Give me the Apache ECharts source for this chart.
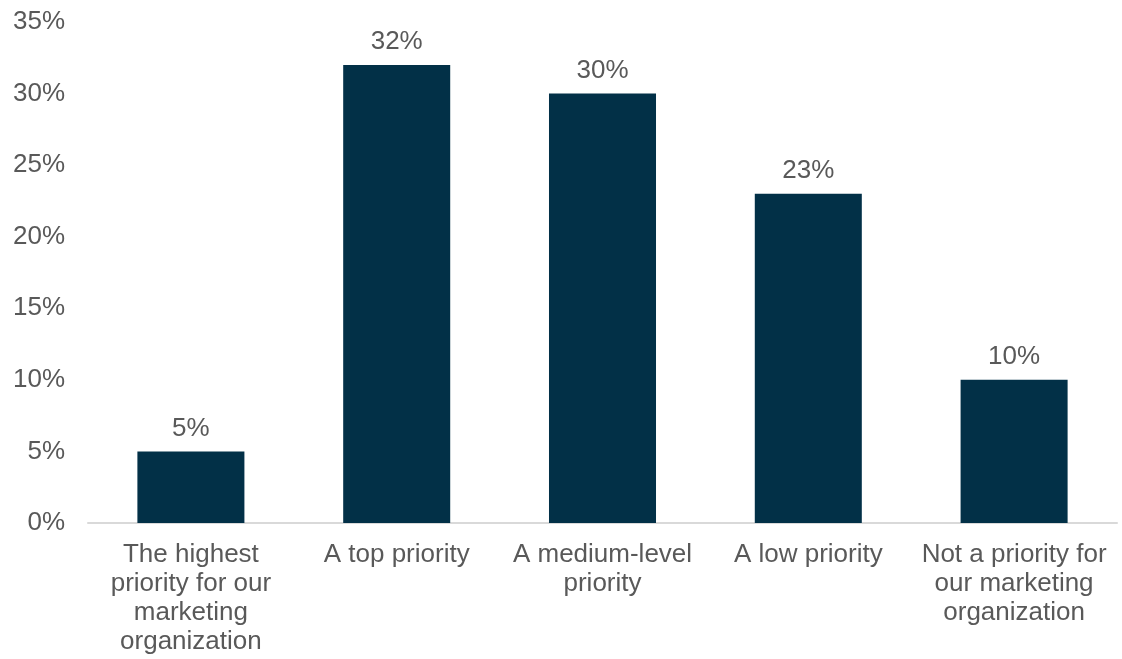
<!DOCTYPE html>
<html>
<head>
<meta charset="utf-8">
<style>
  html, body { margin: 0; padding: 0; background: #ffffff; }
  #chart { width: 1122px; height: 659px; }
</style>
<script src="https://cdn.jsdelivr.net/npm/echarts@6/dist/echarts.min.js"></script>
</head>
<body>
<div id="chart"></div>
<script>
// Survey responses: priority level of the topic for the marketing organization
const categories = [
  'The highest\npriority for our\nmarketing\norganization',
  'A top priority',
  'A medium-level\npriority',
  'A low priority',
  'Not a priority for\nour marketing\norganization'
];
const shares = [5, 32, 30, 23, 10];
const yTicks = { min: 0, max: 35, step: 5 };

const textColor = '#595959';
const fontFamily = '"Liberation Sans", Arial, sans-serif';

const chart = echarts.init(document.getElementById('chart'), null, { renderer: 'canvas' });
chart.setOption({
  animation: false,
  grid: { left: 88, right: 5, top: 22, bottom: 136, containLabel: false },
  xAxis: {
    type: 'category',
    data: categories,
    axisLine: { show: true, lineStyle: { color: '#d9d9d9', width: 2 } },
    axisTick: { show: false },
    axisLabel: {
      interval: 0,
      color: textColor,
      fontFamily: fontFamily,
      fontSize: 26,
      lineHeight: 29,
      margin: 17,
      align: 'center'
    }
  },
  yAxis: {
    type: 'value',
    min: yTicks.min,
    max: yTicks.max,
    interval: yTicks.step,
    axisLine: { show: false },
    axisTick: { show: false },
    splitLine: { show: false },
    axisLabel: {
      color: textColor,
      fontFamily: fontFamily,
      fontSize: 26,
      margin: 23,
      padding: [9, 0, 0, 0],
      formatter: v => v + '%'
    }
  },
  series: [{
    type: 'bar',
    data: shares,
    barWidth: '52%',
    itemStyle: { color: '#023047' },
    label: {
      show: true,
      position: 'top',
      distance: 10,
      color: textColor,
      fontFamily: fontFamily,
      fontSize: 26,
      formatter: p => p.value + '%'
    }
  }]
});
</script>
</body>
</html>
